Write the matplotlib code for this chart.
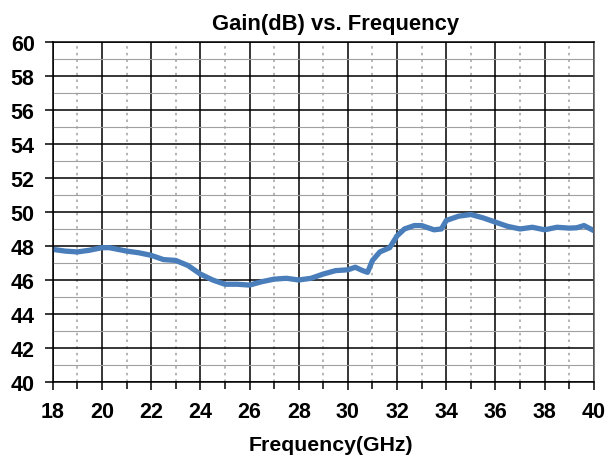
import numpy as np
from matplotlib import pyplot as plt
from matplotlib.ticker import MultipleLocator

# frequence (GHz) et gain (dB)
freq = [18, 18.5, 19, 19.5, 20, 20.3, 21, 21.5, 22, 22.5, 23, 23.5, 24, 24.5, 25, 25.5,
        26, 26.5, 27, 27.5, 28, 28.5, 29, 29.5, 30, 30.3, 30.6, 30.8, 31, 31.3, 31.7, 32,
        32.3, 32.7, 33, 33.5, 33.8, 34, 34.5, 35, 35.5, 36, 36.5, 37, 37.5, 38, 38.5, 39,
        39.3, 39.6, 40]
gain = [47.8, 47.7, 47.65, 47.75, 47.9, 47.9, 47.7, 47.6, 47.45, 47.2, 47.15, 46.85, 46.35, 46.0, 45.75, 45.75,
        45.7, 45.9, 46.05, 46.1, 46.0, 46.1, 46.35, 46.55, 46.6, 46.75, 46.55, 46.45, 47.15, 47.65, 47.9, 48.6,
        49.0, 49.2, 49.2, 48.95, 49.0, 49.5, 49.75, 49.85, 49.65, 49.4, 49.15, 49.0, 49.1, 48.95, 49.1, 49.05,
        49.07, 49.2, 48.9]

xticks = np.arange(18, 41, 2)
yticks = np.arange(40, 61, 2)

plt.rcParams["font.family"] = "Liberation Sans"
plt.rcParams["font.weight"] = "bold"

fig = plt.figure(figsize=(6.06, 4.56), dpi=100)
ax = fig.add_axes([0.087, 0.160, 0.893, 0.746])

ax.set_xlim(18, 40)
ax.set_ylim(40, 60)
ax.set_xticks(xticks)
ax.set_yticks(yticks)
ax.xaxis.set_minor_locator(MultipleLocator(1))
ax.yaxis.set_minor_locator(MultipleLocator(1))

# grille principale noire, secondaire grise
ax.grid(which="major", color="black", linewidth=1.1)
ax.grid(which="minor", axis="x", color="#a8a8a8", linestyle=(0, (1.5, 2.5)), linewidth=1.2)
ax.grid(which="minor", axis="y", color="#a0a0a0", linestyle="-", linewidth=0.8)
ax.set_axisbelow(True)

ax.plot(freq, gain, color="#4a7ebb", linewidth=3.8, solid_capstyle="round")

ax.tick_params(axis="both", which="major", labelsize=15.5, length=6, width=1.1, color="black")
ax.tick_params(axis="x", which="minor", length=5, width=1.1)
ax.tick_params(axis="y", which="minor", length=0)
ax.tick_params(axis="y", pad=7)
ax.tick_params(axis="x", pad=8)
for lbl in ax.get_xticklabels() + ax.get_yticklabels():
    lbl.set_fontweight("bold")

for s in ax.spines.values():
    s.set_color("black")
    s.set_linewidth(1.1)
ax.spines["right"].set_color("#555555")

ax.set_title("Gain(dB) vs. Frequency", fontsize=15.8, fontweight="bold", pad=9, x=0.523)
ax.set_xlabel("Frequency(GHz)", fontsize=15.3, fontweight="bold")
ax.xaxis.set_label_coords(0.514, -0.155)

fig.savefig("out.png", dpi=100)
